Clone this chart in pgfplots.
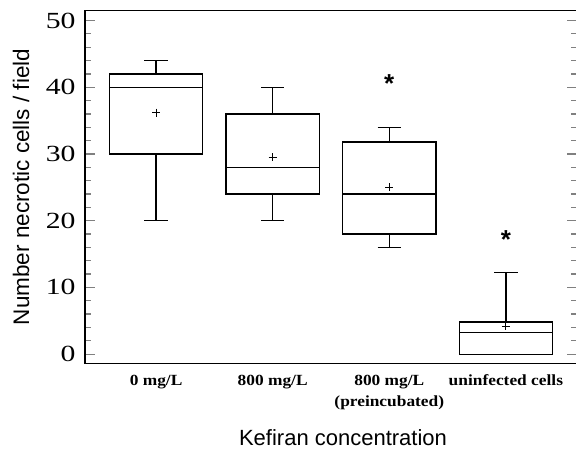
\documentclass[border=0pt]{standalone}
\usepackage{fontspec}
\setmainfont{Liberation Serif}
\newfontfamily\sans{Liberation Sans}
\usepackage{graphicx}
\usepackage{pgfplots}
\pgfplotsset{compat=1.18}
\usepgfplotslibrary{statistics}

\begin{document}
\begin{tikzpicture}
\begin{axis}[scale only axis, width=492pt, height=353pt,
  xmin=0.39, xmax=4.61, ymin=-1.4, ymax=51.5,
  axis line style={line width=1.4pt},
  xtick={1,2,3,4},
  xticklabels={0 mg/L, 800 mg/L, {800 mg/L\\(preincubated)}, uninfected cells},
  xtick style={draw=none},
  xticklabel style={align=center, font=\bfseries\fontsize{15.5}{21}\selectfont, xscale=1.12, yshift=-8pt},
  ytick={0,10,...,50}, minor y tick num=4,
  ytick pos=both, yticklabel pos=left, tick align=inside,
  major tick length=10pt, minor tick length=6pt,
  y tick style={line width=1.3pt},
  yticklabel={\scalebox{1.35}[1.05]{\pgfmathprintnumber{\tick}}},
  yticklabel style={font=\fontsize{22}{22}\selectfont, xshift=-6pt},
  /pgf/number format/assume math mode=true,
  xlabel={Kefiran concentration},
  xlabel style={font=\sans\fontsize{22}{22}\selectfont, at={(axis description cs:0.5,0)}, anchor=center, yshift=-74.5pt, xshift=12pt},
  ylabel={Number necrotic cells / field},
  ylabel style={font=\sans\fontsize{22.5}{22.5}\selectfont, at={(axis description cs:0,0.5)}, anchor=center, yshift=64pt},
  boxplot/draw direction=y,
  boxplot/box extend=0.8, boxplot/whisker extend=0.2,
  clip=false]
  \addplot[draw=black, line width=1.3pt, boxplot prepared={draw position=1,
    lower whisker=20, lower quartile=30, median=40, upper quartile=42, upper whisker=44}] coordinates {};
  \addplot[draw=black, line width=1.3pt, boxplot prepared={draw position=2,
    lower whisker=20, lower quartile=24, median=28, upper quartile=36, upper whisker=40}] coordinates {};
  \addplot[draw=black, line width=1.3pt, boxplot prepared={draw position=3,
    lower whisker=16, lower quartile=18, median=24, upper quartile=31.8, upper whisker=34}] coordinates {};
  \addplot[draw=black, line width=1.3pt, boxplot prepared={draw position=4,
    lower whisker=0, lower quartile=0, median=3.2, upper quartile=4.8, upper whisker=12.2}] coordinates {};
  % means
  \addplot[only marks, mark=+, mark size=4pt, black, mark options={line width=1.2pt}]
    coordinates {(1,36.2)(2,29.5)(3,25)(4,4.2)};
  \node[font=\sans\bfseries\fontsize{26}{26}\selectfont] at (axis cs:3,40.6) {*};
  \node[font=\sans\bfseries\fontsize{26}{26}\selectfont] at (axis cs:4,17.2) {*};
\end{axis}
\pgfresetboundingbox
\path[use as bounding box] (-85pt,-85.5pt) rectangle (491pt,363.5pt);
\end{tikzpicture}
\end{document}
